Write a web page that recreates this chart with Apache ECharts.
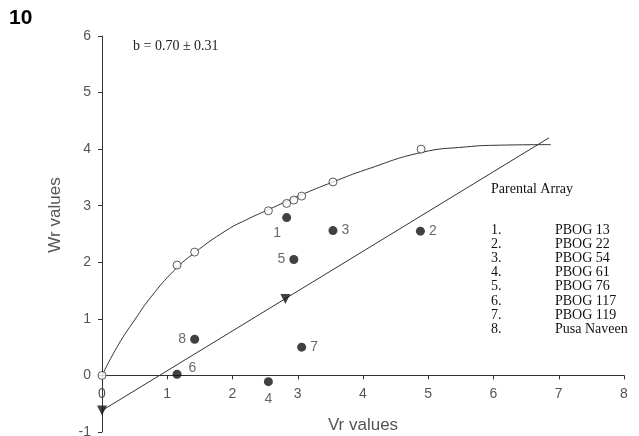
<!DOCTYPE html>
<html><head><meta charset="utf-8">
<script src="https://cdn.jsdelivr.net/npm/echarts@6/dist/echarts.min.js"></script>
<style>html,body{margin:0;padding:0;background:#fff}#c{width:639px;height:436px}</style>
</head><body><div id="c"></div>
<script>
// Wr-Vr points (open circles) for parental array
const openPoints = [[0,0],[1.15,1.95],[1.42,2.18],[2.55,2.91],[2.83,3.04],[2.94,3.10],[3.06,3.17],[3.54,3.42],[4.89,4.00]];
// Parental array (filled), labels 1..8
const parentIds = ['1','2','3','4','5','6','7','8'];
const parentVr = [2.83, 4.88, 3.54, 2.55, 2.94, 1.15, 3.06, 1.42];
const parentWr = [2.79, 2.55, 2.56, -0.11, 2.05, 0.02, 0.50, 0.64];
// limiting parabola
const curveVr = [0,0.25,0.5,0.76,1.11,1.42,1.9,2.21,2.55,3.03,3.54,4.05,4.89,5.58,6.09,6.88];
const curveWr = [0,0.54,0.98,1.40,1.86,2.17,2.56,2.75,2.93,3.18,3.42,3.64,3.94,4.04,4.07,4.08];
// regression line
const regLine = [[0,-0.62],[6.85,4.20]];
const regMarks = [[0,-0.62],[2.81,1.35]];
const legendNames = ['PBOG 13','PBOG 22','PBOG 54','PBOG 61','PBOG 76','PBOG 117','PBOG 119','Pusa Naveen'];
const xTicks = [0,1,2,3,4,5,6,7,8];
const yTicks = [-1,0,1,2,3,4,5,6];

const labelPlace = {'1':'bottomLeft','2':'right','3':'right','4':'bottom','5':'left','6':'topRight','7':'right','8':'left'};
function lbl(id){
  const p = labelPlace[id];
  const base = {show:true, formatter:id, fontFamily:'Liberation Sans, Arial', fontSize:14, color:'#444'};
  if(p==='bottomLeft') return Object.assign(base,{position:'left', offset:[4,16]});
  if(p==='topRight') return Object.assign(base,{position:'right', offset:[2,-6]});
  if(p==='bottom') return Object.assign(base,{position:'bottom', distance:6});
  return Object.assign(base,{position:p, distance:4});
}
const filled = parentIds.map((id,i)=>({value:[parentVr[i],parentWr[i]], label:lbl(id)}));

const chart = echarts.init(document.getElementById('c'), null, {renderer:'canvas'});
const axFont = {fontFamily:'Liberation Sans, Arial', fontSize:14, color:'#555'};
const gfx = [
  {type:'text', left:9, top:8, style:{text:'10', font:'bold 21px "Liberation Sans", Arial', fill:'#000'}},
  {type:'text', left:133, top:39, style:{text:'b = 0.70 ± 0.31', font:'14px "Liberation Serif", "Times New Roman"', fill:'#222'}},
  {type:'text', x:363, y:425, style:{text:'Vr values', font:'17px "Liberation Sans", Arial', fill:'#555', align:'center', verticalAlign:'middle'}},
  {type:'text', x:55, y:215, rotation:Math.PI/2, style:{text:'Wr values', font:'17px "Liberation Sans", Arial', fill:'#555', align:'center', verticalAlign:'middle'}},
  {type:'text', left:491, top:182, style:{text:'Parental Array', font:'14px "Liberation Serif", "Times New Roman"', fill:'#111'}}
];
legendNames.forEach((n,i)=>{
  gfx.push({type:'text', left:491, top:223+i*14.2, style:{text:(i+1)+'.', font:'14px "Liberation Serif", "Times New Roman"', fill:'#111'}});
  gfx.push({type:'text', left:555, top:223+i*14.2, style:{text:n, font:'14px "Liberation Serif", "Times New Roman"', fill:'#111'}});
});

const gridTop = 36, gridBottom = 4, H = 436;
const plotH = H - gridTop - gridBottom;
const zeroOffset = -plotH * (0 - yTicks[0]) / (yTicks[yTicks.length-1] - yTicks[0]);

chart.setOption({
  animation:false,
  backgroundColor:'#fff',
  grid:{left:102, right:15, top:gridTop, bottom:gridBottom, containLabel:false, outerBoundsMode:'none'},
  xAxis:{type:'value', min:xTicks[0], max:xTicks[xTicks.length-1], interval:1, offset:zeroOffset,
    axisLine:{onZero:false, lineStyle:{color:'#333', width:1}},
    axisTick:{show:true, length:4, lineStyle:{color:'#333'}},
    axisLabel:Object.assign({margin:12}, axFont),
    splitLine:{show:false}},
  yAxis:{type:'value', min:yTicks[0], max:yTicks[yTicks.length-1], interval:1,
    axisLine:{show:true, onZero:false, lineStyle:{color:'#333', width:1}},
    axisTick:{show:true, length:4, lineStyle:{color:'#333'}},
    axisLabel:Object.assign({margin:11}, axFont),
    splitLine:{show:false}},
  graphic:gfx,
  series:[
    {type:'line', data:curveVr.map((v,i)=>[v,curveWr[i]]), smooth:0.5, symbol:'none', lineStyle:{color:'#333', width:1}, z:2},
    {type:'line', data:regLine, symbol:'none', lineStyle:{color:'#333', width:1}, z:2},
    {type:'scatter', data:regMarks, symbol:'triangle', symbolRotate:180, symbolSize:10, itemStyle:{color:'#111'}, z:4},
    {type:'scatter', data:openPoints, symbol:'circle', symbolSize:8, itemStyle:{color:'#fff', borderColor:'#333', borderWidth:1}, z:5},
    {type:'scatter', data:filled, symbol:'circle', symbolSize:9, itemStyle:{color:'#111'}, z:5}
  ]
});
</script></body></html>
